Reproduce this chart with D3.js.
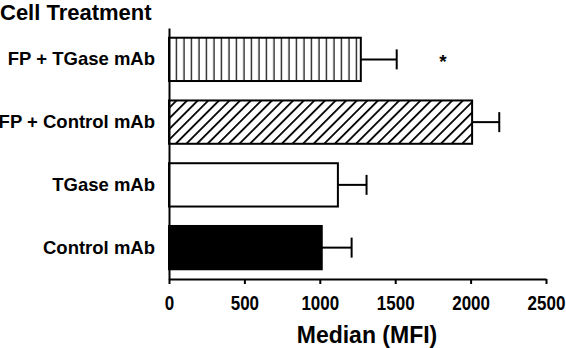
<!DOCTYPE html>
<html>
<head>
<meta charset="utf-8">
<script src="https://cdn.jsdelivr.net/npm/d3@7.9.0/dist/d3.min.js"></script>
<style>
  html, body { margin: 0; padding: 0; background: #fff; }
  text { font-family: "Liberation Sans", Arial, sans-serif; font-weight: bold; fill: #000; }
</style>
</head>
<body>
<div id="chart"></div>
<script>
// chart data
const categories = ['FP + TGase mAb', 'FP + Control mAb', 'TGase mAb', 'Control mAb'];
const medians = [1272, 2010, 1120, 1013];
const errors = [238, 180, 190, 198];
const fills = ['vert', 'diag', 'white', 'black'];
const markers = ['*', '', '', ''];
const xTicks = [0, 500, 1000, 1500, 2000, 2500];

const width = 566, height = 348;
const margin = { top: 28, right: 20, bottom: 69, left: 169 };

const svg = d3.select('#chart').append('svg')
    .attr('width', width)
    .attr('height', height);

// hatch patterns
const defs = svg.append('defs');
const vert = defs.append('pattern')
    .attr('id', 'vert')
    .attr('patternUnits', 'userSpaceOnUse')
    .attr('width', 7.5).attr('height', 10);
vert.append('rect').attr('width', 7.5).attr('height', 10).attr('fill', '#fff');
vert.append('line')
    .attr('x1', 4).attr('x2', 4).attr('y1', 0).attr('y2', 10)
    .attr('stroke', '#000').attr('stroke-width', 1.2);

const diag = defs.append('pattern')
    .attr('id', 'diag')
    .attr('patternUnits', 'userSpaceOnUse')
    .attr('width', 7.5).attr('height', 10)
    .attr('patternTransform', 'rotate(45)');
diag.append('rect').attr('width', 7.5).attr('height', 10).attr('fill', '#fff');
diag.append('line')
    .attr('x1', 0).attr('x2', 0).attr('y1', 0).attr('y2', 10)
    .attr('stroke', '#000').attr('stroke-width', 3.6);

const fillFor = f => f === 'vert' ? 'url(#vert)' : f === 'diag' ? 'url(#diag)' : f === 'black' ? '#000' : '#fff';

const x = d3.scaleLinear()
    .domain([0, 2500])
    .range([margin.left, 546]);

const y = d3.scaleBand()
    .domain(categories)
    .range([margin.top, 279])
    .paddingInner(0.31)
    .paddingOuter(0.155);

const bars = svg.append('g');
categories.forEach((c, i) => {
    const cy = y(c) + y.bandwidth() / 2;
    const xe = x(medians[i] + errors[i]);
    // error bar
    bars.append('line')
        .attr('x1', x(medians[i])).attr('x2', xe)
        .attr('y1', cy).attr('y2', cy)
        .attr('stroke', '#000').attr('stroke-width', 2);
    bars.append('line')
        .attr('x1', xe).attr('x2', xe)
        .attr('y1', cy - 10).attr('y2', cy + 10)
        .attr('stroke', '#000').attr('stroke-width', 2);
    // bar
    bars.append('rect')
        .attr('x', x(0))
        .attr('y', y(c))
        .attr('width', x(medians[i]) - x(0))
        .attr('height', y.bandwidth())
        .attr('fill', fillFor(fills[i]))
        .attr('stroke', '#000')
        .attr('stroke-width', 2);
    if (markers[i]) {
        svg.append('text')
            .attr('x', 443)
            .attr('y', cy + 9)
            .attr('text-anchor', 'middle')
            .style('font-size', '19px')
            .text(markers[i]);
    }
});

// axes
const xAxis = d3.axisBottom(x)
    .tickValues(xTicks)
    .tickSize(5)
    .tickSizeOuter(0)
    .tickFormat(d3.format('d'));

const gx = svg.append('g')
    .attr('transform', `translate(0,279)`)
    .call(xAxis);
gx.select('.domain').attr('stroke', '#000').attr('stroke-width', 2);
gx.selectAll('.tick line').attr('stroke', '#000').attr('stroke-width', 2);
gx.selectAll('.tick text')
    .attr('y', 25.5)
    .attr('dy', 0)
    .attr('transform', 'scale(1,1.2)')
    .style('font-size', '17px')
    .style('font-family', '"Liberation Sans", Arial, sans-serif')
    .style('font-weight', 'bold');

const gy = svg.append('g')
    .attr('transform', `translate(${margin.left},0)`)
    .call(d3.axisLeft(y).tickSize(0).tickSizeOuter(0));
gy.select('.domain').attr('stroke', '#000').attr('stroke-width', 2);
gy.selectAll('.tick text')
    .attr('x', -14)
    .style('font-size', '18.5px')
    .style('font-family', '"Liberation Sans", Arial, sans-serif')
    .style('font-weight', 'bold');

// titles
svg.append('text')
    .attr('x', 0)
    .attr('y', 20)
    .style('font-size', '22px')
    .text('Cell Treatment');

svg.append('text')
    .attr('x', 367)
    .attr('y', 343)
    .attr('text-anchor', 'middle')
    .style('font-size', '23px')
    .text('Median (MFI)');
</script>
</body>
</html>
